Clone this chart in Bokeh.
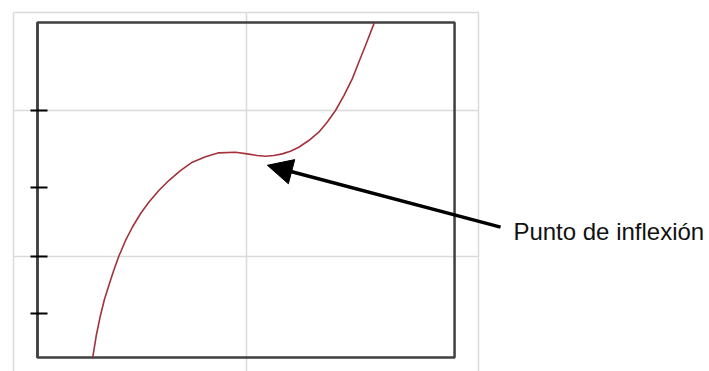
from bokeh.plotting import figure
from bokeh.models import (LinearAxis, FixedTicker, Grid, Range1d, Arrow, NormalHead, Label)
from bokeh.embed import file_html
from bokeh.resources import INLINE

# ---- data ----
curve_x = [-0.659, -0.644, -0.626, -0.609, -0.590, -0.569, -0.547, -0.518, -0.489, -0.454,
           -0.418, -0.375, -0.332, -0.282, -0.231, -0.174, -0.117, -0.045, 0.005, 0.048,
           0.084, 0.120, 0.156, 0.191, 0.227, 0.270, 0.313, 0.349, 0.385, 0.421,
           0.457, 0.488, 0.514, 0.552]
curve_y = [-0.684, -0.536, -0.399, -0.290, -0.195, -0.092, 0.005, 0.113, 0.203, 0.295,
           0.374, 0.454, 0.522, 0.590, 0.647, 0.684, 0.711, 0.715, 0.704, 0.693,
           0.688, 0.693, 0.704, 0.722, 0.749, 0.795, 0.852, 0.920, 1.000, 1.102,
           1.216, 1.341, 1.444, 1.600]
y_ticks = [-0.386, 0.0, 0.474, 1.0]
grid_x = [-1.0, 0.0, 1.0]
grid_y = [0.0, 1.0, 1.669]
annotation_text = "Punto de inflexión"

# ---- layout constants ----
BOX_L, BOX_R, BOX_B, BOX_T = -0.897, 0.897, -0.686, 1.601
X0, X1, Y0, Y1 = -1.0559, 1.9935, -0.7816, 1.7509

p = figure(width=709, height=371, output_backend="svg", toolbar_location=None,
           x_axis_type=None, y_axis_type=None, min_border=0,
           x_range=Range1d(X0, X1), y_range=Range1d(Y0, Y1),
           outline_line_color=None, background_fill_color="white",
           border_fill_color="white")

grid_kw = dict(grid_line_color="#dadada", grid_line_width=1.5)
vgrid = Grid(dimension=0, ticker=FixedTicker(ticks=grid_x), **grid_kw)
hgrid = Grid(dimension=1, ticker=FixedTicker(ticks=grid_y), **grid_kw)
if "cross_bounds" in Grid.properties():
    vgrid.cross_bounds = (Y0, 1.669)
    hgrid.cross_bounds = (-1.0, 1.0)
p.add_layout(vgrid)
p.add_layout(hgrid)

# plot box
p.quad(left=[BOX_L], right=[BOX_R], bottom=[BOX_B], top=[BOX_T],
       fill_alpha=0, line_color="#404040", line_width=2.5)

# left axis with ticks crossing the box edge
yaxis = LinearAxis(fixed_location=BOX_L, bounds=(BOX_B, BOX_T),
                   ticker=FixedTicker(ticks=y_ticks),
                   axis_line_color="#404040", axis_line_width=2.5,
                   major_tick_line_color="black", major_tick_line_width=2,
                   major_tick_in=10, major_tick_out=7,
                   minor_tick_line_color=None,
                   major_label_text_font_size="0px", major_label_text_alpha=0)
p.add_layout(yaxis, "left")

# curve
p.line(curve_x, curve_y, line_color="#a3323c", line_width=1.6)

# arrow + label
p.add_layout(Arrow(end=NormalHead(size=25, fill_color="black", line_color="black"),
                   x_start=1.095, y_start=0.204, x_end=0.092, y_end=0.626,
                   line_color="black", line_width=3.5))
p.add_layout(Label(x=1.150, y=0.175, text=annotation_text,
                   text_font="Liberation Sans", text_font_size="24px",
                   text_color="#111111", text_baseline="alphabetic"))

open("out.html", "w").write(file_html(p, INLINE))
